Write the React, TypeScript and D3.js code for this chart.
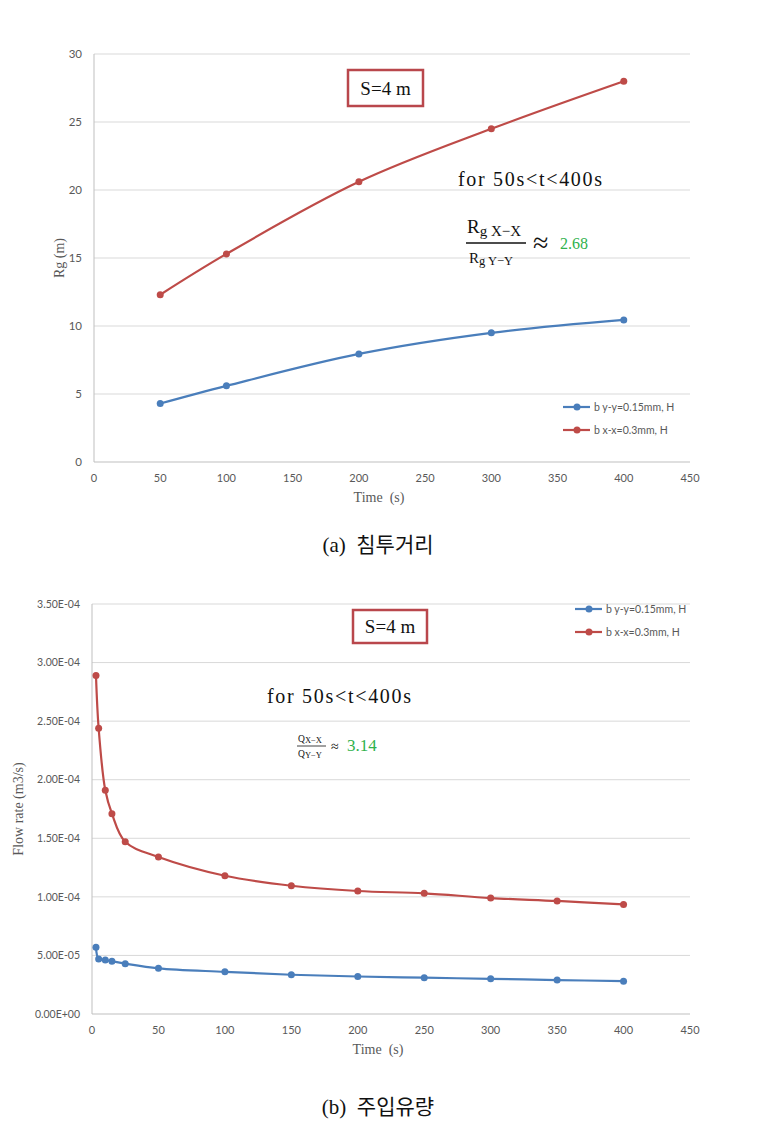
import React, {useEffect, useRef} from "react";
import * as d3 from "d3";

// (a) penetration distance
const timeA = [50, 100, 200, 300, 400];
const rgYY = [4.3, 5.6, 7.95, 9.5, 10.45];
const rgXX = [12.3, 15.3, 20.6, 24.5, 28.0];

// (b) injection flow rate
const timeB = [3, 5, 10, 15, 25, 50, 100, 150, 200, 250, 300, 350, 400];
const qYY = [5.7e-5, 4.7e-5, 4.6e-5, 4.5e-5, 4.3e-5, 3.9e-5, 3.6e-5, 3.35e-5, 3.2e-5, 3.1e-5, 3.0e-5, 2.9e-5, 2.8e-5];
const qXX = [2.89e-4, 2.44e-4, 1.91e-4, 1.71e-4, 1.47e-4, 1.34e-4, 1.18e-4, 1.095e-4, 1.05e-4, 1.03e-4, 0.99e-4, 0.965e-4, 0.935e-4];

const xTicks = [0, 50, 100, 150, 200, 250, 300, 350, 400, 450];
const yTicksA = [0, 5, 10, 15, 20, 25, 30];
const yTicksB = [0, 5e-5, 1e-4, 1.5e-4, 2e-4, 2.5e-4, 3e-4, 3.5e-4];
const yLabelsB = ["0.00E+00", "5.00E-05", "1.00E-04", "1.50E-04", "2.00E-04", "2.50E-04", "3.00E-04", "3.50E-04"];

const seriesNames = ["b y-y=0.15mm, H", "b x-x=0.3mm, H"];
const seriesColors = ["#4a7ebb", "#be4b48"];

const SANS = "Lato, 'Liberation Sans', sans-serif";
const SERIF = "'Liberation Serif', 'DejaVu Serif', serif";
const GRID = "#d9d9d9";
const AXIS = "#bfbfbf";
const TICK = "#595959";
const BOX = "#b9474c";
const GREEN = "#2fb24c";

type Cfg = {
    x0: number; x1: number; y0: number; y1: number;
    yMax: number; yTicks: number[]; yLabels: string[];
    xs: number[]; series: number[][];
    tickSize: number; yLabel: string; yLabelX: number;
    legendX: number; legendY: number;
};

function drawChart(g: d3.Selection<SVGGElement, unknown, null, undefined>, c: Cfg) {
    const x = d3.scaleLinear().domain([0, 450]).range([c.x0, c.x1]);
    const y = d3.scaleLinear().domain([0, c.yMax]).range([c.y0, c.y1]);

    // grid
    g.selectAll(".grid")
        .data(c.yTicks.slice(1))
        .join("line")
        .attr("x1", c.x0).attr("x2", c.x1)
        .attr("y1", d => y(d)).attr("y2", d => y(d))
        .attr("stroke", GRID).attr("stroke-width", 1);

    // axes lines
    g.append("line").attr("x1", c.x0).attr("x2", c.x0).attr("y1", c.y1).attr("y2", c.y0)
        .attr("stroke", AXIS);
    g.append("line").attr("x1", c.x0).attr("x2", c.x1).attr("y1", c.y0).attr("y2", c.y0)
        .attr("stroke", AXIS);

    // y tick labels
    g.selectAll(".ytl")
        .data(c.yTicks)
        .join("text")
        .attr("x", c.x0 - 12)
        .attr("y", d => y(d))
        .attr("dy", "0.35em")
        .attr("text-anchor", "end")
        .attr("font-family", SANS)
        .attr("font-size", c.tickSize)
        .attr("fill", TICK)
        .text((_, i) => c.yLabels[i]);

    // x tick labels
    g.selectAll(".xtl")
        .data(xTicks)
        .join("text")
        .attr("x", d => x(d))
        .attr("y", c.y0 + 16)
        .attr("dy", "0.35em")
        .attr("text-anchor", "middle")
        .attr("font-family", SANS)
        .attr("font-size", 11)
        .attr("fill", TICK)
        .text(d => d);

    g.append("text")
        .attr("x", (c.x0 + c.x1) / 2 - 13)
        .attr("y", c.y0 + 40)
        .attr("text-anchor", "middle")
        .attr("font-family", SERIF)
        .attr("font-size", 14)
        .attr("fill", TICK)
        .attr("xml:space", "preserve")
        .text("Time  (s)");

    g.append("text")
        .attr("transform", `translate(${c.yLabelX},${(c.y0 + c.y1) / 2}) rotate(-90)`)
        .attr("text-anchor", "middle")
        .attr("dy", "0.35em")
        .attr("font-family", SERIF)
        .attr("font-size", 14)
        .attr("fill", TICK)
        .text(c.yLabel);

    // series
    const line = d3.line<number>()
        .x((_, i) => x(c.xs[i]))
        .y(d => y(d))
        .curve(d3.curveCatmullRom.alpha(0.5));

    c.series.forEach((s, k) => {
        g.append("path")
            .attr("d", line(s))
            .attr("fill", "none")
            .attr("stroke", seriesColors[k])
            .attr("stroke-width", 2.2);
        g.selectAll(`.pt${k}`)
            .data(s)
            .join("circle")
            .attr("cx", (_, i) => x(c.xs[i]))
            .attr("cy", d => y(d))
            .attr("r", 3.5)
            .attr("fill", seriesColors[k]);
    });

    // legend
    seriesNames.forEach((name, k) => {
        const ly = c.legendY + k * 23;
        g.append("line")
            .attr("x1", c.legendX).attr("x2", c.legendX + 27)
            .attr("y1", ly).attr("y2", ly)
            .attr("stroke", seriesColors[k]).attr("stroke-width", 2.2);
        g.append("circle")
            .attr("cx", c.legendX + 14).attr("cy", ly).attr("r", 3.5)
            .attr("fill", seriesColors[k]);
        g.append("text")
            .attr("x", c.legendX + 31).attr("y", ly).attr("dy", "0.35em")
            .attr("font-family", SANS).attr("font-size", 10.5)
            .attr("fill", TICK)
            .text(name);
    });
}

function drawBox(g: d3.Selection<SVGGElement, unknown, null, undefined>, x: number, y: number, w: number, h: number) {
    g.append("rect")
        .attr("x", x).attr("y", y).attr("width", w).attr("height", h)
        .attr("fill", "white").attr("stroke", BOX).attr("stroke-width", 2.5);
    g.append("text")
        .attr("x", x + w / 2).attr("y", y + h / 2).attr("dy", "0.35em")
        .attr("text-anchor", "middle")
        .attr("font-family", SERIF).attr("font-size", 19)
        .attr("fill", "#111")
        .text("S=4 m");
}

function drawRange(g: d3.Selection<SVGGElement, unknown, null, undefined>, x: number, y: number) {
    g.append("text")
        .attr("x", x).attr("y", y)
        .attr("font-family", SERIF).attr("font-size", 20)
        .attr("textLength", 144).attr("lengthAdjust", "spacing")
        .attr("fill", "#111")
        .text("for 50s<t<400s");
}

const App: React.FC = () => {
    const svgRef = useRef<SVGSVGElement | null>(null);

    useEffect(() => {
        if (!svgRef.current) return;
        const svg = d3.select(svgRef.current);
        svg.selectAll("*").remove();

        // ---- (a) ----
        const ga = svg.append("g");
        drawChart(ga, {
            x0: 94, x1: 690, y0: 462, y1: 54,
            yMax: 30, yTicks: yTicksA, yLabels: yTicksA.map(String),
            xs: timeA, series: [rgYY, rgXX],
            tickSize: 11.5, yLabel: "Rg (m)", yLabelX: 59,
            legendX: 563, legendY: 407,
        });
        drawBox(ga, 348, 70, 75, 36);
        drawRange(ga, 458, 186);
        const num = ga.append("text").attr("x", 467).attr("y", 233)
            .attr("font-family", SERIF).attr("fill", "#111");
        num.append("tspan").attr("font-size", 19).text("R");
        num.append("tspan").attr("font-size", 15).attr("dy", 3).text("g");
        num.append("tspan").attr("font-size", 15).text(" X−X");
        ga.append("line").attr("x1", 466).attr("x2", 526).attr("y1", 243).attr("y2", 243)
            .attr("stroke", "#111").attr("stroke-width", 1.4);
        const den = ga.append("text").attr("x", 469).attr("y", 263)
            .attr("font-family", SERIF).attr("fill", "#111");
        den.append("tspan").attr("font-size", 15).text("R");
        den.append("tspan").attr("font-size", 12.5).attr("dy", 2).text("g");
        den.append("tspan").attr("font-size", 12.5).text(" Y−Y");
        ga.append("text").attr("x", 533).attr("y", 252)
            .attr("font-family", SERIF).attr("font-size", 28).attr("fill", "#111").text("≈");
        ga.append("text").attr("x", 560).attr("y", 249)
            .attr("font-family", SERIF).attr("font-size", 16).attr("fill", GREEN).text("2.68");

        ga.append("text")
            .attr("x", 378).attr("y", 552)
            .attr("text-anchor", "middle")
            .attr("font-family", "'Liberation Serif', 'Noto Sans CJK KR', serif")
            .attr("font-size", 21).attr("fill", "#111")
            .attr("xml:space", "preserve")
            .text("(a)  침투거리");

        // ---- (b) ----
        const gb = svg.append("g");
        drawChart(gb, {
            x0: 92, x1: 690, y0: 1014, y1: 604,
            yMax: 3.5e-4, yTicks: yTicksB, yLabels: yLabelsB,
            xs: timeB, series: [qYY, qXX],
            tickSize: 10.5, yLabel: "Flow rate (m3/s)", yLabelX: 18,
            legendX: 575, legendY: 609,
        });
        drawBox(gb, 353, 610, 74, 33);
        drawRange(gb, 267, 703);
        const nb = gb.append("text").attr("x", 298).attr("y", 742)
            .attr("font-family", SERIF).attr("fill", "#111");
        nb.append("tspan").attr("font-size", 9.5).text("Q");
        nb.append("tspan").attr("font-size", 8.5).attr("dy", 1).text("X−X");
        gb.append("line").attr("x1", 297).attr("x2", 326).attr("y1", 746).attr("y2", 746)
            .attr("stroke", "#111").attr("stroke-width", 0.8);
        const db = gb.append("text").attr("x", 298).attr("y", 757)
            .attr("font-family", SERIF).attr("fill", "#111");
        db.append("tspan").attr("font-size", 9.5).text("Q");
        db.append("tspan").attr("font-size", 8.5).attr("dy", 1).text("Y−Y");
        gb.append("text").attr("x", 331).attr("y", 751)
            .attr("font-family", SERIF).attr("font-size", 14).attr("fill", "#111").text("≈");
        gb.append("text").attr("x", 347).attr("y", 751)
            .attr("font-family", SERIF).attr("font-size", 17).attr("fill", GREEN).text("3.14");

        gb.append("text")
            .attr("x", 378).attr("y", 1114)
            .attr("text-anchor", "middle")
            .attr("font-family", "'Liberation Serif', 'Noto Sans CJK KR', serif")
            .attr("font-size", 21).attr("fill", "#111")
            .attr("xml:space", "preserve")
            .text("(b)  주입유량");
    }, []);

    return (
        <svg
            ref={svgRef}
            width={777}
            height={1136}
            style={{position: "absolute", left: 0, top: 0, background: "white"}}
        ></svg>
    );
};

export default App;
